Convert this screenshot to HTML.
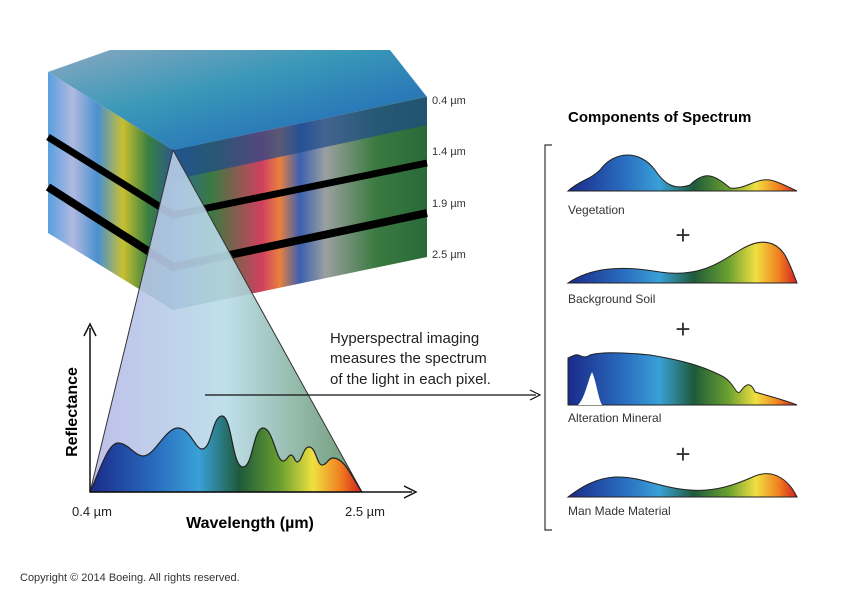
<!DOCTYPE html>
<html><head><meta charset="utf-8"><style>
body{margin:0;background:#fff;}
svg{display:block;font-family:"Liberation Sans",Arial,sans-serif;}
</style></head><body>
<svg width="850" height="593" viewBox="0 0 850 593" xmlns="http://www.w3.org/2000/svg">
<defs>
<linearGradient id="spec" x1="0" x2="1" y1="0" y2="0">
<stop offset="0" stop-color="#1a2a8a"/><stop offset="0.25" stop-color="#2a6fc0"/>
<stop offset="0.4" stop-color="#3aa0d8"/><stop offset="0.55" stop-color="#1e5a3a"/>
<stop offset="0.7" stop-color="#6aa030"/><stop offset="0.82" stop-color="#f0e040"/>
<stop offset="0.92" stop-color="#f08020"/><stop offset="1" stop-color="#d02020"/>
</linearGradient>
<linearGradient id="tri" x1="0" x2="1"><stop offset="0" stop-color="#b8b8e8"/><stop offset="0.5" stop-color="#b8dce8"/><stop offset="1" stop-color="#5c8c60"/></linearGradient>
<linearGradient id="top" x1="0" x2="1" y1="0" y2="1"><stop offset="0" stop-color="#8aa8c0"/><stop offset="0.4" stop-color="#3a98b8"/><stop offset="0.7" stop-color="#2a7ab8"/><stop offset="1" stop-color="#4a6a3a"/></linearGradient>
<linearGradient id="lf" x1="0" x2="1"><stop offset="0" stop-color="#5aa0e0"/><stop offset="0.2" stop-color="#b0b8e0"/><stop offset="0.4" stop-color="#4a90d0"/><stop offset="0.6" stop-color="#c8c030"/><stop offset="0.8" stop-color="#3a8040"/><stop offset="1" stop-color="#2a5a8a"/></linearGradient>
<linearGradient id="rf" x1="0" x2="1"><stop offset="0" stop-color="#2a6aa0"/><stop offset="0.15" stop-color="#3a7a40"/><stop offset="0.35" stop-color="#d04060"/><stop offset="0.42" stop-color="#e88040"/><stop offset="0.5" stop-color="#3a60b0"/><stop offset="0.6" stop-color="#9aa0a0"/><stop offset="0.8" stop-color="#3a7a40"/><stop offset="1" stop-color="#2a6a3a"/></linearGradient>
</defs>
<!-- cube -->
<polygon points="48,72 110,50 390,50 427,97 173,150" fill="url(#top)"/>
<polygon points="48,72 173,150 173,310 48,233" fill="url(#lf)"/>
<polygon points="173,150 427,97 427,257 173,310" fill="url(#rf)"/>
<polygon points="173,150 427,97 427,125 173,180" fill="#1e4a8a" opacity="0.7"/>
<polyline points="48,137 173,215 427,163" fill="none" stroke="#000" stroke-width="7"/>
<polyline points="48,187 173,267 427,213" fill="none" stroke="#000" stroke-width="8"/>
<g font-size="11" fill="#333"><text x="432" y="104">0.4 µm</text><text x="432" y="155">1.4 µm</text><text x="432" y="207">1.9 µm</text><text x="432" y="258">2.5 µm</text></g>
<!-- triangle -->
<polygon points="173,150 90,492 362,492" fill="url(#tri)" opacity="0.9"/>
<polygon points="173,150 90,492 362,492" fill="none" stroke="#333" stroke-width="1"/>
<path d="M90,492 C100,470 108,443 118,443 C128,443 135,456 143,456 C155,456 165,428 178,428 C190,428 195,449 202,449 C212,449 212,416 222,416 C232,416 232,467 243,467 C253,467 253,428 263,428 C273,428 276,461 283,461 C287,461 288,455 291,455 C294,455 295,462 297,462 C302,462 303,447 309,447 C316,447 317,465 322,465 C327,465 328,458 333,458 C345,458 352,478 362,492 Z" fill="url(#spec)" stroke="#222" stroke-width="1.2"/>
<!-- axes -->
<line x1="90" y1="492" x2="90" y2="328" stroke="#111" stroke-width="1.5"/>
<path d="M84,336 L90,324 L96,336" fill="none" stroke="#111" stroke-width="1.5"/>
<line x1="90" y1="492" x2="412" y2="492" stroke="#111" stroke-width="1.5"/>
<path d="M404,486 L416,492 L404,498" fill="none" stroke="#111" stroke-width="1.5"/>
<text x="77" y="412" font-size="16" font-weight="bold" transform="rotate(-90 77 412)" text-anchor="middle">Reflectance</text>
<text x="72" y="516" font-size="13" fill="#222">0.4 µm</text>
<text x="345" y="516" font-size="13" fill="#222">2.5 µm</text>
<text x="250" y="528" font-size="16" font-weight="bold" text-anchor="middle">Wavelength (µm)</text>
<!-- arrow -->
<line x1="205" y1="395" x2="536" y2="395" stroke="#111" stroke-width="1.2"/>
<path d="M530,390 L540,395 L530,400" fill="none" stroke="#111" stroke-width="1.2"/>
<g font-size="15" fill="#222"><text x="330" y="343">Hyperspectral imaging</text><text x="330" y="363">measures the spectrum</text><text x="330" y="384">of the light in each pixel.</text></g>
<!-- right panel -->
<text x="568" y="122" font-size="15" font-weight="bold">Components of Spectrum</text>
<path d="M552,145 L545,145 L545,530 L552,530" fill="none" stroke="#333" stroke-width="1.2"/>
<path d="M568,191 C580,180 590,180 600,170 C615,150 640,150 655,170 C665,185 675,190 690,185 C705,170 715,175 730,188 C745,190 755,178 770,180 C780,182 790,188 797,191 Z" fill="url(#spec)" stroke="#222"/>
<text x="568" y="214" font-size="12" fill="#333">Vegetation</text>
<text x="683" y="244" font-size="26" text-anchor="middle" fill="#333">+</text>
<path d="M568,283 C590,268 620,265 660,272 C700,278 720,262 740,250 C760,238 775,240 785,255 C792,268 795,278 797,283 Z" fill="url(#spec)" stroke="#222"/>
<text x="568" y="303" font-size="12" fill="#333">Background Soil</text>
<text x="683" y="338" font-size="26" text-anchor="middle" fill="#333">+</text>
<path d="M568,405 L568,358 L575,355 C580,353 582,360 590,355 C600,352 620,352 650,355 C680,360 700,365 720,375 C735,382 735,395 740,392 C745,385 750,380 755,392 C765,395 785,400 797,405 Z" fill="url(#spec)" stroke="#222"/>
<path d="M578,405 C585,398 588,380 592,372 C596,380 598,398 602,405 Z" fill="#fff"/>
<text x="568" y="422" font-size="12" fill="#333">Alteration Mineral</text>
<text x="683" y="463" font-size="26" text-anchor="middle" fill="#333">+</text>
<path d="M568,497 C580,488 595,478 615,477 C640,476 660,488 690,490 C715,492 735,485 755,476 C775,468 790,482 797,497 Z" fill="url(#spec)" stroke="#222"/>
<text x="568" y="515" font-size="12" fill="#333">Man Made Material</text>
<text x="20" y="581" font-size="11" fill="#333">Copyright © 2014 Boeing. All rights reserved.</text>
</svg>
</body></html>
